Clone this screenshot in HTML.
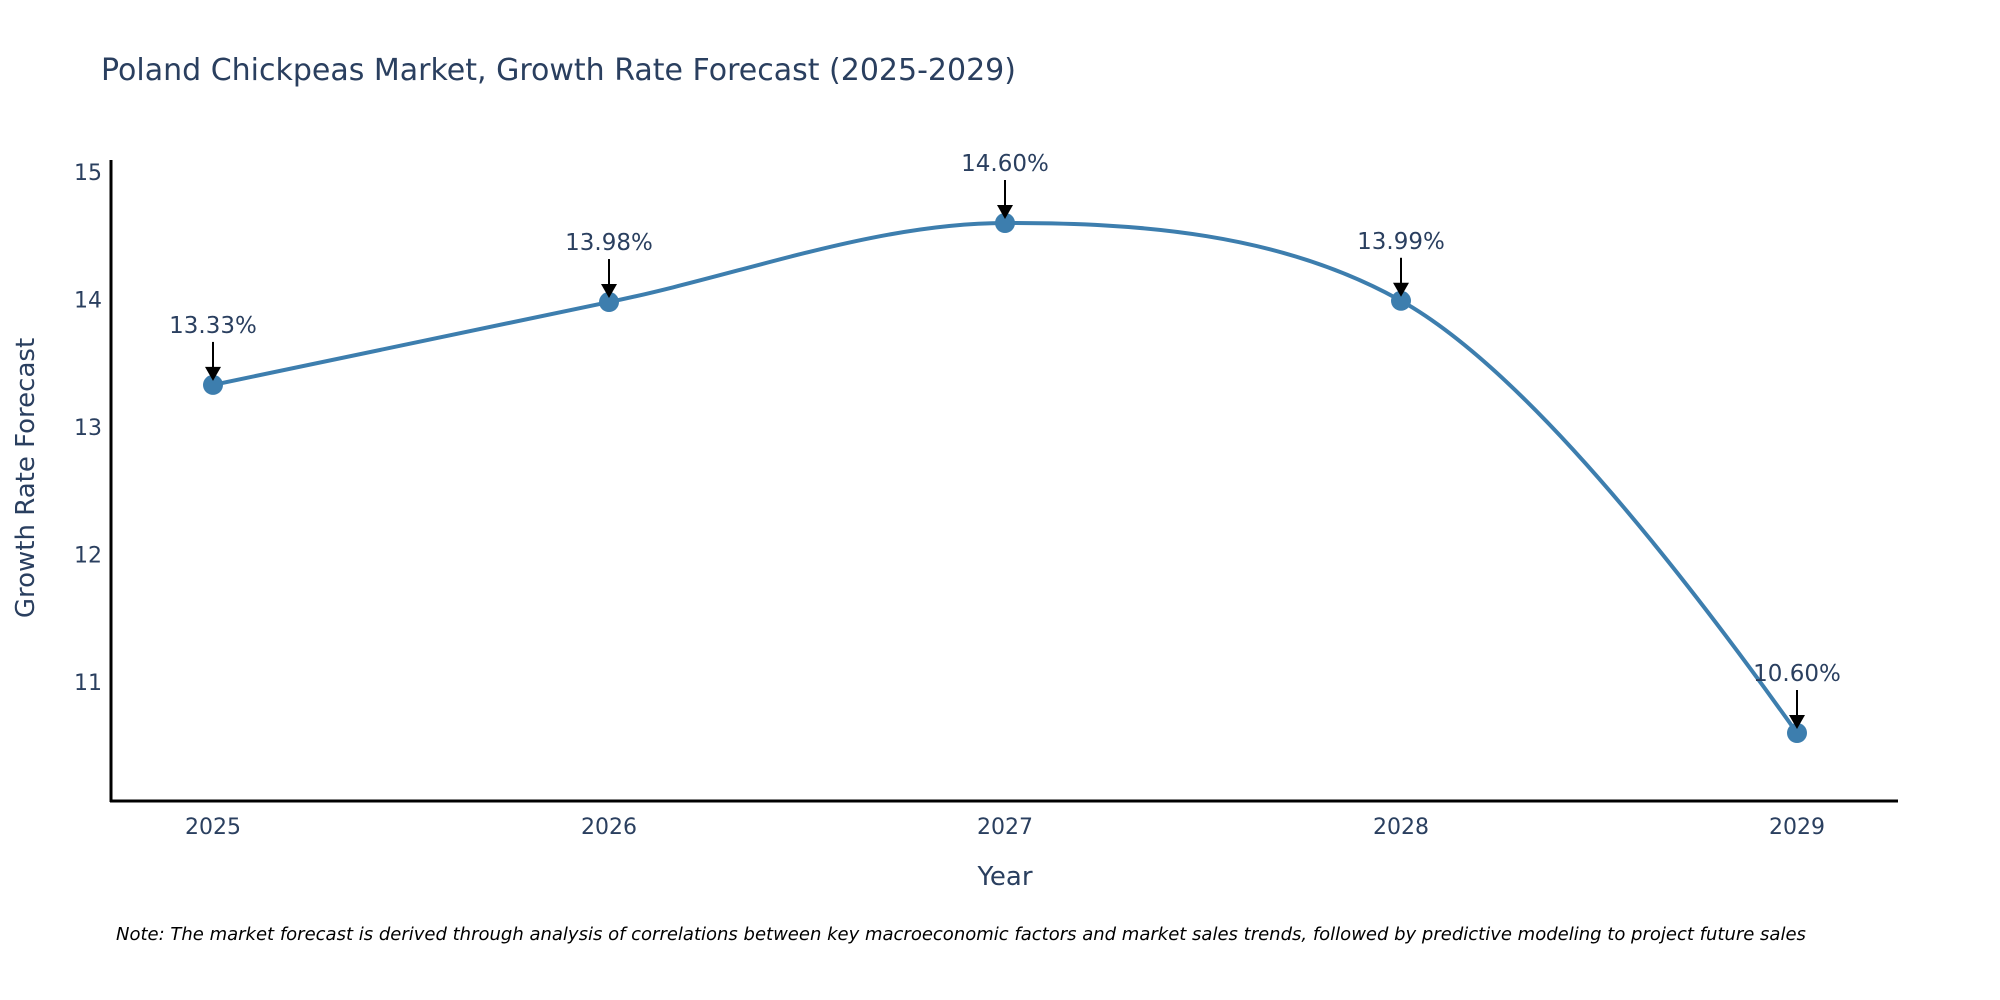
<!DOCTYPE html>
<html><head><meta charset="utf-8"><style>
body{margin:0;background:#fff;}
svg{display:block;font-family:"DejaVu Sans","Liberation Sans",sans-serif;}
</style></head><body>
<svg id="chart" width="2000" height="1000">
<text x="101" y="80" font-size="30" fill="#2a3f5f">Poland Chickpeas Market, Growth Rate Forecast (2025-2029)</text>
<g id="yticks"></g>
<g id="xticks"></g>
<line x1="111" y1="160" x2="111" y2="802" stroke="#000" stroke-width="3"/>
<line x1="110" y1="801" x2="1898" y2="801" stroke="#000" stroke-width="3"/>
<path id="line" fill="none" stroke="#3d7eae" stroke-width="4"/>
<g id="marks"></g>
<text x="34" y="478" font-size="26" fill="#2a3f5f" text-anchor="middle" transform="rotate(-90 34 478)">Growth Rate Forecast</text>
<text x="1005" y="885" font-size="26" fill="#2a3f5f" text-anchor="middle">Year</text>
<text x="116" y="940" font-size="18" font-style="italic" fill="#000">Note: The market forecast is derived through analysis of correlations between key macroeconomic factors and market sales trends, followed by predictive modeling to project future sales</text>
</svg>
<script>
const years = ["2025","2026","2027","2028","2029"];
const values = [13.33, 13.98, 14.60, 13.99, 10.60];
const labels = ["13.33%","13.98%","14.60%","13.99%","10.60%"];
const yTicks = [11, 12, 13, 14, 15];
const NS="http://www.w3.org/2000/svg";
function xs(i){return 213 + i*396;}
function ys(v){return 682 - (v-11)*127.5;}
function mk(tag, attrs, parent){const e=document.createElementNS(NS,tag);for(const k in attrs)e.setAttribute(k,attrs[k]);parent.appendChild(e);return e;}
const yt=document.getElementById('yticks');
yTicks.forEach(t=>{const e=mk('text',{x:102,y:ys(t)+8,'font-size':22,fill:'#2a3f5f','text-anchor':'end'},yt);


e.textContent=t;});
const xt=document.getElementById('xticks');
years.forEach((y,i)=>{const e=mk('text',{x:xs(i),y:834,'font-size':22,fill:'#2a3f5f','text-anchor':'middle'},xt);


e.textContent=y;});
// plotly-style spline
const pts=values.map((v,i)=>[xs(i),ys(v)]);
function tangent(a,b,c,s){
 const d1x=a[0]-b[0],d1y=a[1]-b[1],d2x=c[0]-b[0],d2y=c[1]-b[1];
 const d1a=Math.pow(d1x*d1x+d1y*d1y,0.25),d2a=Math.pow(d2x*d2x+d2y*d2y,0.25);
 const nx=(d2a*d2a*d1x-d1a*d1a*d2x)*s,ny=(d2a*d2a*d1y-d1a*d1a*d2y)*s;
 const den1=3*d2a*(d1a+d2a),den2=3*d1a*(d1a+d2a);
 return [[b[0]+nx/den1,b[1]+ny/den1],[b[0]-nx/den2,b[1]-ny/den2]];
}
const tg=[];
for(let i=1;i<pts.length-1;i++)tg.push(tangent(pts[i-1],pts[i],pts[i+1],1));
let d=`M${pts[0]}Q${tg[0][0]} ${pts[1]}`;
for(let i=2;i<pts.length-1;i++)d+=`C${tg[i-2][1]} ${tg[i-1][0]} ${pts[i]}`;
d+=`Q${tg[pts.length-3][1]} ${pts[pts.length-1]}`;
document.getElementById('line').setAttribute('d',d);
const mg=document.getElementById('marks');
pts.forEach((p,i)=>{
 const c=mk('circle',{cx:p[0],cy:p[1],r:10,fill:'#3d7eae'},mg);
 
 
 const l=mk('line',{x1:p[0],y1:p[1]-43,x2:p[0],y2:p[1]-16,stroke:'#000','stroke-width':2},mg);
 
 
 const a=mk('polygon',{points:`${p[0]-8},${p[1]-18} ${p[0]+8},${p[1]-18} ${p[0]},${p[1]-4}`,fill:'#000'},mg);
 
 
 const t=mk('text',{x:p[0],y:p[1]-52,'font-size':23,fill:'#2a3f5f','text-anchor':'middle'},mg);
 
 
 t.textContent=labels[i];
});
</script>
</body></html>
